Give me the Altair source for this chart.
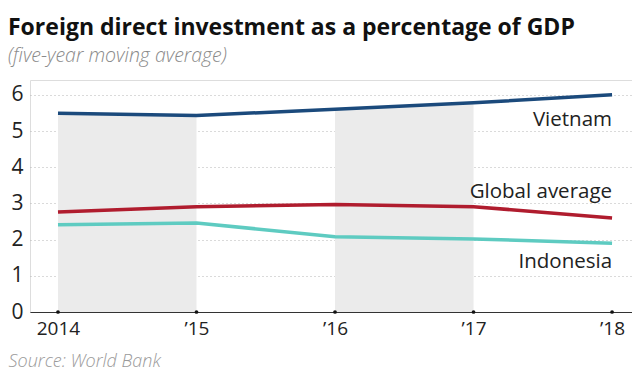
import altair as alt
import pandas as pd

years = [2014, 2015, 2016, 2017, 2018]
vietnam = [5.49, 5.43, 5.60, 5.78, 6.00]
global_avg = [2.76, 2.91, 2.97, 2.91, 2.60]
indonesia = [2.41, 2.46, 2.08, 2.02, 1.90]
series_names = ["Vietnam", "Global average", "Indonesia"]
series_colors = ["#1b4a7c", "#b01c2e", "#5ecbc1"]
label_y = [5.15, 3.15, 1.22]
shade_spans = [(2014, 2015), (2016, 2017)]

FONT = "Open Sans"

rows = []
for name, vals in zip(series_names, [vietnam, global_avg, indonesia]):
    for y, v in zip(years, vals):
        rows.append({"year": y, "value": v, "series": name})
df = pd.DataFrame(rows)

shade_frames = []
for a, b in shade_spans:
    shade_frames.append(pd.DataFrame(
        [{"year": y, "value": v} for y, v in zip(years, vietnam) if a <= y <= b]
    ))

labels = pd.DataFrame({"series": series_names, "year": [2018] * 3, "value": label_y})
ticks = pd.DataFrame({"year": years, "value": [0] * 5})

x_scale = alt.Scale(domain=[2013.798, 2018.144], nice=False, zero=False)
y_scale = alt.Scale(domain=[0, 6.41], nice=False)
color_scale = alt.Scale(domain=series_names, range=series_colors)

label_expr = "datum.value == 2014 ? '2014' : '\u2019' + substring(toString(datum.value), 2, 4)"

x_enc = alt.X(
    "year:Q",
    scale=x_scale,
    axis=alt.Axis(
        values=years,
        labelExpr=label_expr,
        ticks=False,
        grid=False,
        domainColor="#333333",
        domainWidth=1,
        labelFont=FONT,
        labelFontSize=19,
        labelColor="#222222",
        labelPadding=7,
        labelOverlap=False,
        title="Source: World Bank",
        titleFont=FONT,
        titleFontSize=18,
        titleFontStyle="italic",
        titleFontWeight=300,
        titleColor="#9a9a9a",
        titleAnchor="start",
        titleAlign="left",
        titleBaseline="alphabetic",
        titleX=-22,
        titleY=54,
    ),
)
y_enc = alt.Y(
    "value:Q",
    scale=y_scale,
    axis=alt.Axis(
        values=[0, 1, 2, 3, 4, 5, 6],
        ticks=False,
        domain=False,
        grid=True,
        gridColor="#b5b5b5",
        gridDash=[1, 3],
        gridWidth=1,
        labelFont=FONT,
        labelFontSize=21,
        labelColor="#222222",
        labelPadding=7,
        labelOverlap=False,
        title=None,
    ),
)

areas = [
    alt.Chart(f).mark_area(color="#ebebeb", opacity=1).encode(x=x_enc, y=y_enc)
    for f in shade_frames
]

lines = alt.Chart(df).mark_line(strokeWidth=3.5).encode(
    x=x_enc,
    y=y_enc,
    color=alt.Color("series:N", scale=color_scale, legend=None),
)

dots = alt.Chart(ticks).mark_circle(size=14, color="#111111", opacity=1).encode(
    x=x_enc, y=y_enc
)

text = alt.Chart(labels).mark_text(
    align="right", baseline="alphabetic", font=FONT, fontSize=20.5, color="#222222"
).encode(x=x_enc, y=y_enc, text="series:N")

chart = alt.layer(*areas, lines, dots, text).properties(
    width=602,
    height=232,
    padding={"left": 22, "top": 72, "right": 0, "bottom": 63},
    autosize=alt.AutoSizeParams(type="none"),
    title=alt.TitleParams(
        text="Foreign direct investment as a percentage of GDP",
        subtitle="(five-year moving average)",
        anchor="start",
        frame="group",
        dx=-22,
        offset=15,
        font=FONT,
        fontSize=23,
        fontWeight="bold",
        color="#111111",
        subtitleFont=FONT,
        subtitleFontSize=19.5,
        subtitleFontStyle="italic",
        subtitleFontWeight=300,
        subtitleColor="#8a8a8a",
        subtitlePadding=7,
    ),
).configure_view(stroke=None).configure(background="white")

chart.save("out.html", embed_options={"renderer": "svg", "actions": False})
